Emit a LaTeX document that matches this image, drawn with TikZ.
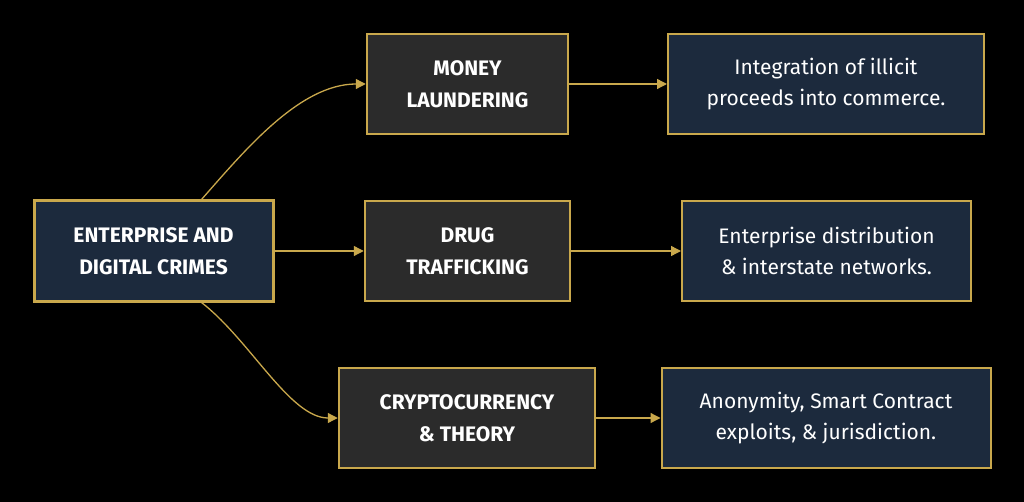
\documentclass[tikz,border=0pt]{standalone}
\usepackage{fontspec}
\setmainfont{Fira Sans}
\usetikzlibrary{arrows.meta}
\definecolor{gold}{HTML}{C9A84C}
\definecolor{navy}{HTML}{1C2A3D}
\definecolor{darkbox}{HTML}{2B2B2B}
\tikzset{
  base/.style={rectangle, draw=gold, text=white, align=center, inner sep=0pt,
    font=\fontsize{21}{31.5}\selectfont},
  rootbox/.style={base, fill=navy, line width=3pt, font=\fontsize{21}{31.5}\selectfont\bfseries},
  catbox/.style={base, fill=darkbox, line width=2.5pt, font=\fontsize{21}{31.5}\selectfont\bfseries},
  descbox/.style={base, fill=navy, line width=2pt},
  conn/.style={draw=gold, line width=1.3pt, -{Triangle[length=10pt,width=10pt]}}
}
\begin{document}
\begin{tikzpicture}[x=1pt,y=-1pt]
\fill[black] (0,0) rectangle (1024,502);
\useasboundingbox (0,0) rectangle (1024,502);
\node[rootbox, minimum width=239pt, minimum height=100pt] (root) at (153.5,251) {ENTERPRISE AND\\DIGITAL CRIMES};
\node[catbox, minimum width=201pt, minimum height=100pt] (money) at (467.5,84) {MONEY\\LAUNDERING};
\node[catbox, minimum width=205pt, minimum height=100pt] (drug) at (467.5,251) {DRUG\\TRAFFICKING};
\node[catbox, minimum width=256pt, minimum height=100pt] (crypto) at (467,418) {CRYPTOCURRENCY\\\& THEORY};
\node[descbox, minimum width=316pt, minimum height=100pt] (d1) at (826,84) {Integration of illicit\\proceeds into commerce.};
\node[descbox, minimum width=289pt, minimum height=100pt] (d2) at (826.5,251) {Enterprise distribution\\\& interstate networks.};
\node[descbox, minimum width=329pt, minimum height=100pt] (d3) at (826,418) {Anonymity, Smart Contract\\exploits, \& jurisdiction.};
\coordinate (rt) at ([xshift=48pt]root.north);
\coordinate (rb) at ([xshift=48pt]root.south);
\draw[conn] (rt) .. controls (245,150) and (300,84) .. (money.west);
\draw[conn] (rb) .. controls (250,340) and (290,418) .. (crypto.west);
\draw[conn] (root.east) -- (drug.west);
\draw[conn] (money.east) -- (d1.west);
\draw[conn] (drug.east) -- (d2.west);
\draw[conn] (crypto.east) -- (d3.west);
\end{tikzpicture}
\end{document}
